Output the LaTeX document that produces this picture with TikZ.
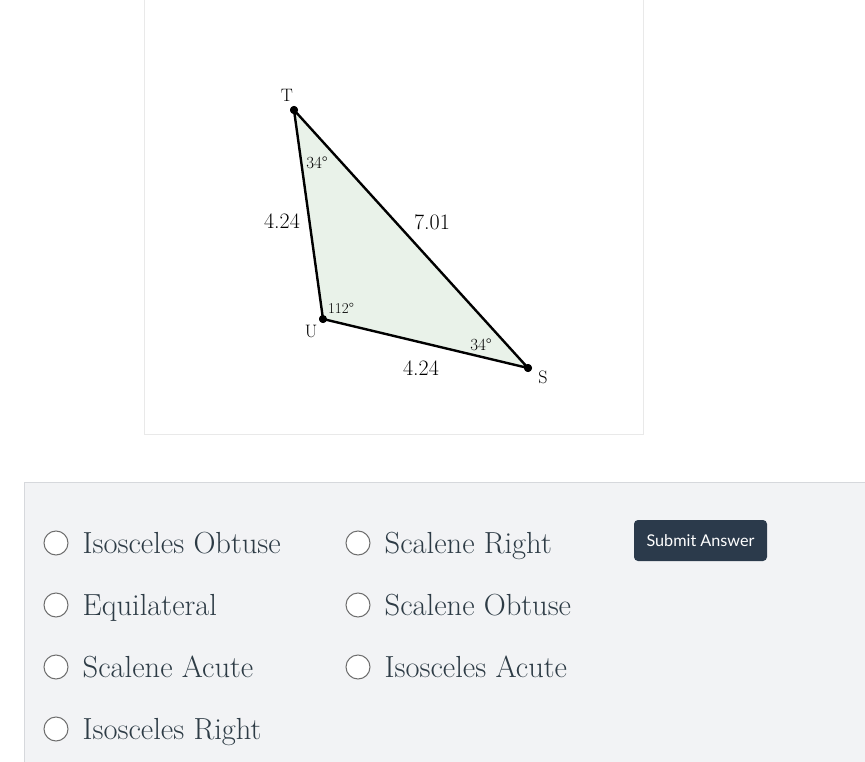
\documentclass[tikz,border=0pt]{standalone}
\usepackage{fontspec}
\usepackage{xcolor}
\usepackage{tikz}
\usetikzlibrary{positioning}
\newfontfamily\latofont{Lato}
\definecolor{triangleFill}{HTML}{E9F2E9}
\definecolor{panelFill}{HTML}{F2F3F5}
\definecolor{panelEdge}{HTML}{D6D8DC}
\definecolor{boxEdge}{HTML}{E9E9E9}
\definecolor{buttonFill}{HTML}{2B3A4B}
\definecolor{radioEdge}{HTML}{6E6E6E}
\definecolor{optionText}{HTML}{2D3B45}

\begin{document}
\begin{tikzpicture}[
  x=1pt,y=-1pt,
  every vertex/.style={
    circle,
    fill=black,
    inner sep=0pt,
    minimum size=8pt,
  },
  every side/.style={
    draw=black,
    line width=2.4pt,
    line join=round,
  },
  every vertex name/.style={
    font=\fontsize{18}{18}\selectfont,
    inner sep=0pt,
  },
  every side length/.style={
    font=\fontsize{22}{22}\selectfont,
    inner sep=0pt,
  },
  every angle mark/.style={
    font=\fontsize{17}{17}\selectfont,
    inner sep=0pt,
  },
  every radio/.style={
    circle,
    draw=radioEdge,
    fill=white,
    line width=1pt,
    inner sep=0pt,
    minimum size=24pt,
  },
  every option/.style={
    font=\fontsize{30.5}{30.5}\selectfont,
    text=optionText,
    inner sep=0pt,
    text height=20pt,
    text depth=0pt,
    anchor=west,
  },
  every submit button/.style={
    fill=buttonFill,
    rounded corners=4pt,
    minimum width=133pt,
    minimum height=41pt,
    text=white,
    font=\latofont\fontsize{16.2}{16.2}\selectfont,
  },
]
\useasboundingbox[fill=white] (0,0) rectangle (865,762);
\draw[boxEdge,line width=1pt] (144.5,-2) rectangle (643.5,434.5);
\fill[panelFill] (24.5,482.5) rectangle (870,770);
\draw[panelEdge,line width=1pt] (870,482.5) -- (24.5,482.5) -- (24.5,770);

% triangle
\node[every vertex] (T) at (294,110) {};
\node[every vertex] (U) at (323,319) {};
\node[every vertex] (S) at (528,368) {};
\fill[triangleFill] (T.center) -- (U.center) -- (S.center) -- cycle;
\draw[every side] (T.center) -- (U.center) -- (S.center) -- cycle;
\node[every vertex] at (T) {};
\node[every vertex] at (U) {};
\node[every vertex] at (S) {};

\node[every vertex name] (Tname) at (287,95) {T};
\node[every vertex name] (Uname) at (311,331) {U};
\node[every vertex name] (Sname) at (543,377) {S};

\node[every side length] (TU) at (282,221) {4.24};
\node[every side length] (TS) at (432,222) {7.01};
\node[every side length] (US) at (421,368) {4.24};

\node[every angle mark] (angT) at (317,163) {34\textdegree};
\node[every angle mark,font=\fontsize{15}{15}\selectfont] (angU) at (341,308) {112\textdegree};
\node[every angle mark] (angS) at (481,345) {34\textdegree};

% answers
\node[every radio] (r1) at (56,543) {};
\node[every radio] (r2) at (56,605) {};
\node[every radio] (r3) at (56,667) {};
\node[every radio] (r4) at (56,729) {};
\node[every radio] (r5) at (358,543) {};
\node[every radio] (r6) at (358,605) {};
\node[every radio] (r7) at (358,667) {};
\node[every option,right=14pt of r1] (o1) {Isosceles Obtuse};
\node[every option,right=14pt of r2] (o2) {Equilateral};
\node[every option,right=14pt of r3] (o3) {Scalene Acute};
\node[every option,right=14pt of r4] (o4) {Isosceles Right};
\node[every option,right=14pt of r5] (o5) {Scalene Right};
\node[every option,right=14pt of r6] (o6) {Scalene Obtuse};
\node[every option,right=14pt of r7] (o7) {Isosceles Acute};

\node[every submit button] (submit) at (700.5,540.5) {Submit Answer};
\end{tikzpicture}
\end{document}
